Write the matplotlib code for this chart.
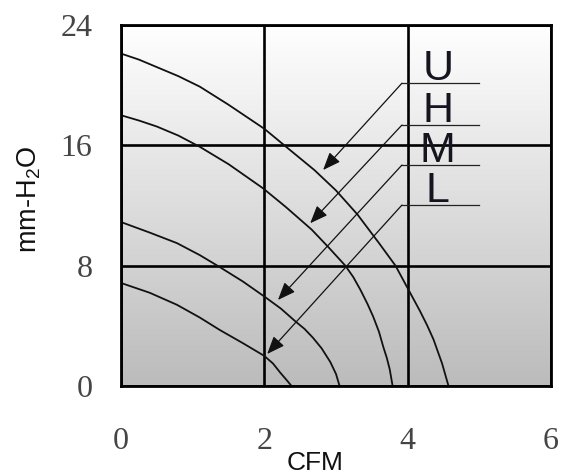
import numpy as np
import matplotlib
matplotlib.use("Agg")
import matplotlib.pyplot as plt
from matplotlib import font_manager as fm

# ---- data ----
u_x = [0, 0.25, 0.5, 0.8, 1.1, 1.5, 2.0, 2.33, 2.7, 3.0, 3.3, 3.6, 3.83, 4.0, 4.17, 4.27, 4.36, 4.48, 4.57]
u_y = [22.1, 21.7, 21.2, 20.6, 19.9, 18.7, 17.1, 15.8, 14.35, 13.0, 11.4, 9.5, 8.0, 6.5, 5.0, 4.05, 3.1, 1.5, 0]

h_x = [0, 0.25, 0.5, 0.8, 1.1, 1.5, 1.98, 2.3, 2.66, 2.9, 3.13, 3.24, 3.34, 3.44, 3.52, 3.6, 3.66, 3.71, 3.75, 3.79]
h_y = [18.0, 17.65, 17.25, 16.65, 15.9, 14.75, 13.15, 11.9, 10.4, 9.2, 8.0, 7.25, 6.4, 5.45, 4.6, 3.6, 2.6, 1.85, 1.1, 0]

m_x = [0, 0.4, 0.78, 1.1, 1.38, 1.7, 2.0, 2.23, 2.44, 2.56, 2.68, 2.8, 2.92, 3.0, 3.05]
m_y = [10.9, 10.2, 9.5, 8.7, 7.9, 6.95, 5.95, 5.15, 4.27, 3.8, 3.2, 2.5, 1.6, 0.8, 0]

l_x = [0, 0.4, 0.78, 1.1, 1.38, 1.7, 2.0, 2.12, 2.22, 2.31, 2.38]
l_y = [6.85, 6.2, 5.4, 4.55, 3.72, 2.85, 2.0, 1.5, 0.9, 0.4, 0]

labels = ["U", "H", "M", "L"]
leader_y = [20.13, 17.35, 14.69, 12.03]
leader_x0 = 3.92
leader_x1 = 4.99
tip_x = [2.82, 2.64, 2.19, 2.04]
tip_y = [14.36, 10.82, 5.72, 2.13]
label_x = 4.42

x_ticks = [0, 2, 4, 6]
y_ticks = [0, 8, 16, 24]
x_label = "CFM"
y_label = "mm-H$_2$O"

# ---- fonts ----
names = {f.name for f in fm.fontManager.ttflist}
letter_font = "Liberation Sans Narrow" if "Liberation Sans Narrow" in names else "Liberation Sans"
plt.rcParams["mathtext.fontset"] = "custom"
plt.rcParams["mathtext.rm"] = "Liberation Sans"
plt.rcParams["mathtext.it"] = "Liberation Sans"

W, H = 561, 475
fig = plt.figure(figsize=(W / 100, H / 100), dpi=100)
ax = fig.add_axes([121 / W, (H - 386) / H, (551 - 121) / W, (386 - 25) / H])

# gradient background (white at top, grey at bottom)
grad = np.linspace(0, 1, 256).reshape(-1, 1)
top_c, bot_c = 1.0, 0.735
img = top_c + (bot_c - top_c) * grad
ax.imshow(np.dstack([img, img, img]), extent=[0, 6, 0, 24], origin="upper",
          aspect="auto", zorder=0, interpolation="bilinear")
ax.set_xlim(0, 6)
ax.set_ylim(0, 24)

ax.set_xticks(x_ticks)
ax.set_yticks(y_ticks)
ax.set_xticklabels([str(t) for t in x_ticks])
ax.set_yticklabels([str(t) for t in y_ticks])
ax.tick_params(axis="both", length=0, labelsize=23, labelcolor="#454545")
ax.tick_params(axis="x", pad=29.5)
ax.tick_params(axis="y", pad=20.5)
for lab in ax.get_xticklabels() + ax.get_yticklabels():
    lab.set_fontfamily("Liberation Serif")

ax.grid(True, color="black", lw=1.9, zorder=1)
for s in ax.spines.values():
    s.set_linewidth(2.0)
    s.set_color("black")
    s.set_zorder(5)

for xs, ys in [(u_x, u_y), (h_x, h_y), (m_x, m_y), (l_x, l_y)]:
    ax.plot(xs, ys, color="#111111", lw=1.3, zorder=3, solid_joinstyle="round")

for lab, ly, tx, ty in zip(labels, leader_y, tip_x, tip_y):
    ax.plot([leader_x0, leader_x1], [ly, ly], color="#222222", lw=0.9, zorder=3)
    ax.annotate("", xy=(tx, ty), xytext=(leader_x0, ly),
                arrowprops=dict(arrowstyle="-|>,head_length=0.6,head_width=0.24",
                                mutation_scale=18, lw=0.9, color="#111111",
                                shrinkA=0, shrinkB=0), zorder=4)
    ax.text(label_x, ly + 0.22, lab, ha="center", va="baseline", fontsize=31,
            family=letter_font, color="#15151f", zorder=4)

fig.text(315 / W, 1 - 470 / H, x_label, ha="center", va="baseline",
         fontsize=19, family="Liberation Sans", color="#111111")
fig.text(29 / W, 1 - 199 / H, y_label, rotation=90, ha="center", va="center",
         fontsize=19.5, family="Liberation Sans", color="#111111")

fig.savefig("out.png", dpi=100)
